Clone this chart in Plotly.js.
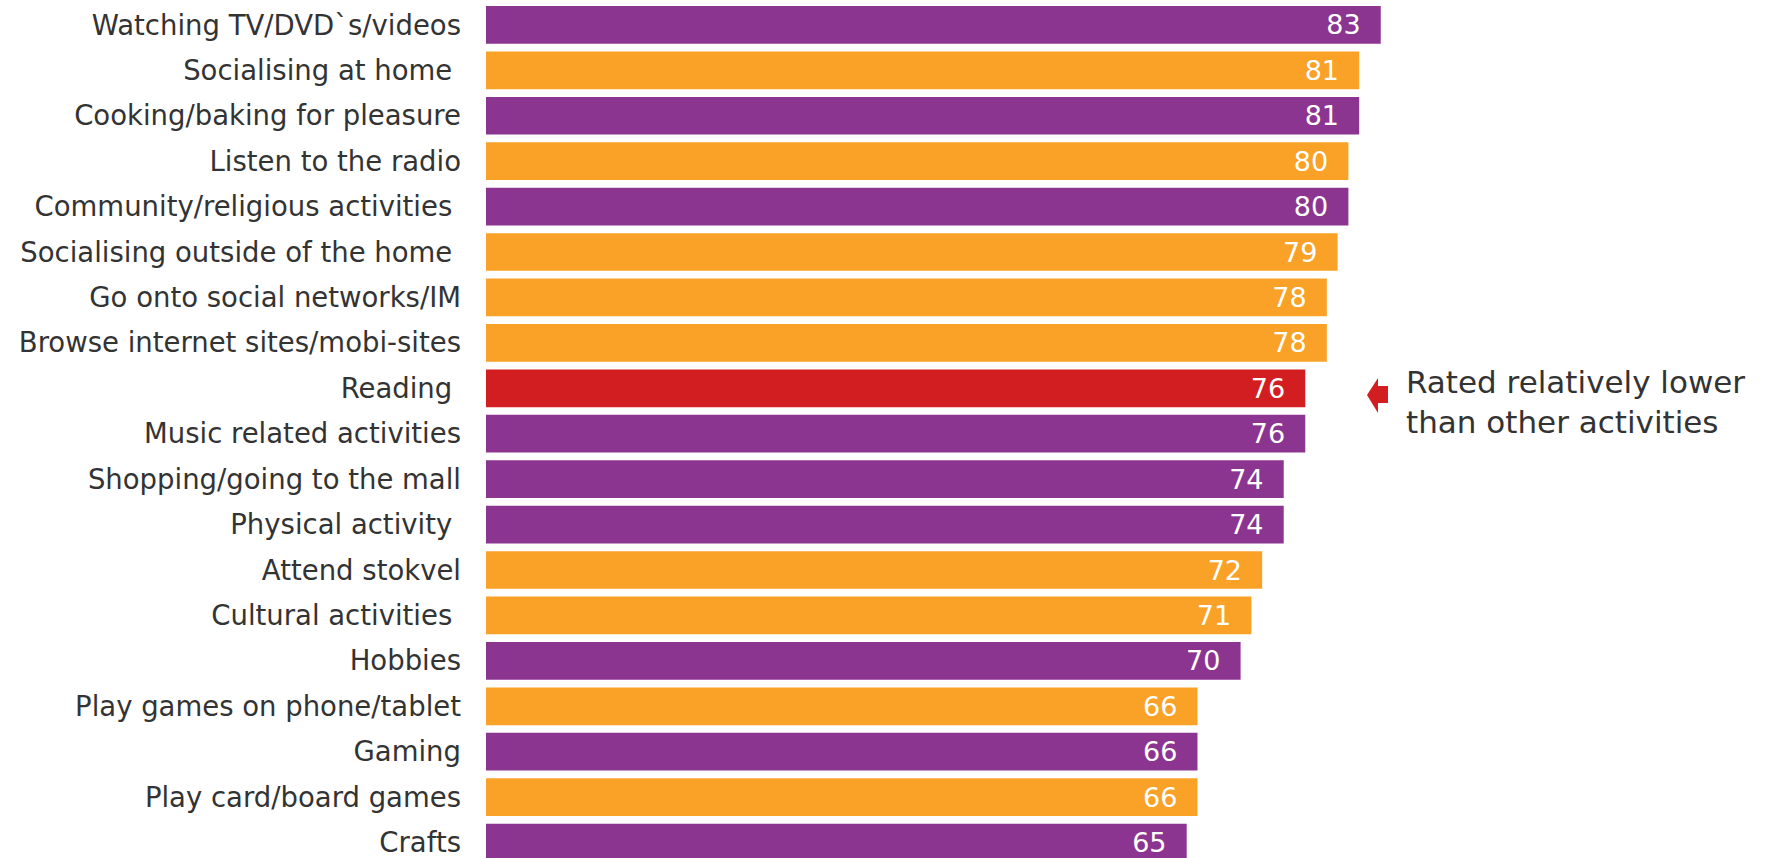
<!DOCTYPE html>
<html>
<head>
<meta charset="utf-8">
<script src="https://cdn.plot.ly/plotly-3.0.1.min.js"></script>
<style>html,body{margin:0;padding:0;background:#fff;}#chart{width:1773px;height:858px;}</style>
</head>
<body>
<div id="chart"></div>
<script>
var categories = [
  "Watching TV/DVD`s/videos",
  "Socialising at home\u00A0",
  "Cooking/baking for pleasure",
  "Listen to the radio",
  "Community/religious activities\u00A0",
  "Socialising outside of the home\u00A0",
  "Go onto social networks/IM",
  "Browse internet sites/mobi-sites",
  "Reading\u00A0",
  "Music related activities",
  "Shopping/going to the mall",
  "Physical activity\u00A0",
  "Attend stokvel",
  "Cultural activities\u00A0",
  "Hobbies",
  "Play games on phone/tablet",
  "Gaming",
  "Play card/board games",
  "Crafts"
];
var values = [83, 81, 81, 80, 80, 79, 78, 78, 76, 76, 74, 74, 72, 71, 70, 66, 66, 66, 65];
var groups = ["p","o","p","o","p","o","o","o","r","p","p","p","o","o","p","o","p","o","p"];
var palette = {p: "#8B3590", o: "#F9A227", r: "#D21E21"};
var annotationText = "Rated relatively lower<br>than other activities";

var W = 1773, H = 858, L = 486;
function px(x){ return (x - L) / (W - L); }
function py(y){ return 1 - y / H; }
var arrowPts = [[1367,395],[1378,378],[1378,386],[1388,386],[1388,403],[1378,403],[1378,413]];
var path = "M" + arrowPts.map(function(p){ return px(p[0]) + "," + py(p[1]); }).join(" L") + " Z";

var trace = {
  type: "bar",
  orientation: "h",
  y: categories,
  x: values,
  marker: {color: groups.map(function(g){ return palette[g]; }), line: {width: 0}},
  width: 0.83,
  text: values.map(function(v){ return v + "\u00A0\u00A0"; }),
  textposition: "inside",
  insidetextanchor: "end",
  constraintext: "none",
  textfont: {family: "DejaVu Sans, Verdana, sans-serif", size: 27, color: "#ffffff"},
  hoverinfo: "none"
};

var layout = {
  width: W, height: H,
  margin: {l: L, r: 0, t: 0, b: 0, pad: 0},
  paper_bgcolor: "#ffffff", plot_bgcolor: "#ffffff",
  showlegend: false,
  font: {family: "DejaVu Sans, Verdana, sans-serif", color: "#333333"},
  xaxis: {range: [0, (W - L) / 10.78], visible: false, showgrid: false, zeroline: false, fixedrange: true},
  yaxis: {
    type: "category",
    range: [18.34, -0.548],
    showgrid: false, zeroline: false, showline: false,
    ticks: "", ticklabelstandoff: 24,
    tickfont: {family: "DejaVu Sans, Verdana, sans-serif", size: 27.5, color: "#333333"},
    automargin: false, fixedrange: true
  },
  shapes: [{type: "path", xref: "paper", yref: "paper", path: path, fillcolor: palette.r, line: {width: 0}}],
  annotations: [{
    xref: "paper", yref: "paper", x: px(1404), y: py(402),
    xanchor: "left", yanchor: "middle", align: "left", showarrow: false,
    text: annotationText,
    font: {family: "DejaVu Sans, Verdana, sans-serif", size: 31, color: "#333333"}
  }]
};

Plotly.newPlot("chart", [trace], layout, {displayModeBar: false, staticPlot: true});
</script>
</body>
</html>
